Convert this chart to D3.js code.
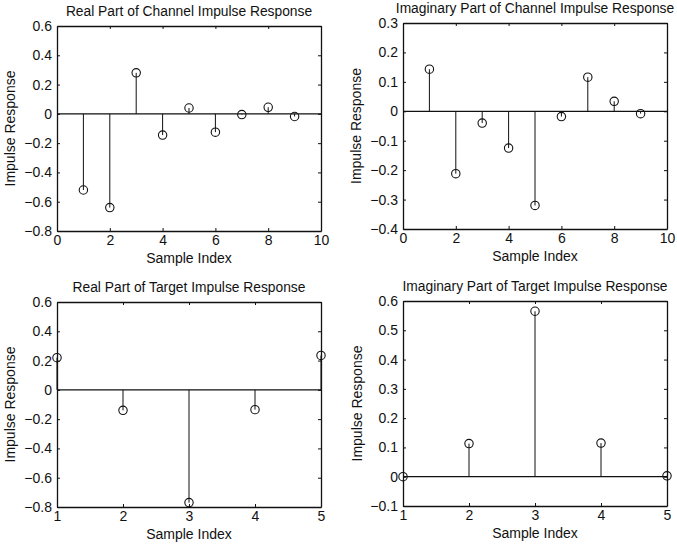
<!DOCTYPE html>
<html>
<head>
<meta charset="utf-8">
<script src="https://cdn.jsdelivr.net/npm/d3@7"></script>
<style>
  body { margin: 0; background: #fff; }
  svg { display: block; font-family: "Liberation Sans", Arial, sans-serif; }
</style>
</head>
<body>
<div id="target"></div>
<script>
// data
const channelIndex = [1, 2, 3, 4, 5, 6, 7, 8, 9]
const channelReal = [-0.52, -0.64, 0.28, -0.145, 0.04, -0.125, -0.005, 0.045, -0.018]
const channelImag = [0.143, -0.212, -0.04, -0.125, -0.32, -0.018, 0.116, 0.034, -0.008]

const targetIndex = [1, 2, 3, 4, 5]
const targetReal = [0.22, -0.14, -0.77, -0.135, 0.235]
const targetImag = [0.0, 0.113, 0.565, 0.115, 0.003]

const channelXTicks = [0, 2, 4, 6, 8, 10]
const targetXTicks = [1, 2, 3, 4, 5]
const realYTicks = [-0.8, -0.6, -0.4, -0.2, 0, 0.2, 0.4, 0.6]
const channelImagYTicks = [-0.4, -0.3, -0.2, -0.1, 0, 0.1, 0.2, 0.3]
const targetImagYTicks = [-0.1, 0, 0.1, 0.2, 0.3, 0.4, 0.5, 0.6]

const titles = [
    'Real Part of Channel Impulse Response',
    'Imaginary Part of Channel Impulse Response',
    'Real Part of Target Impulse Response',
    'Imaginary Part of Target Impulse Response'
]

const width = 677
const height = 547
const ink = '#111'

const svg = d3.select('#target').append('svg')
    .attr('width', width)
    .attr('height', height)

const fmt = v => v === 0 ? '0' : d3.format('.1f')(v)

const panels = [
    { title: titles[0], xs: channelIndex, ys: channelReal, xDomain: [0, 10], xTicks: channelXTicks,
      yTicks: realYTicks, box: { l: 57, r: 321, t: 26, b: 231 }, yLabelX: 11 },
    { title: titles[1], xs: channelIndex, ys: channelImag, xDomain: [0, 10], xTicks: channelXTicks,
      yTicks: channelImagYTicks, box: { l: 403, r: 667, t: 23, b: 229 }, yLabelX: 357 },
    { title: titles[2], xs: targetIndex, ys: targetReal, xDomain: [1, 5], xTicks: targetXTicks,
      yTicks: realYTicks, box: { l: 57, r: 321, t: 302, b: 507 }, yLabelX: 11 },
    { title: titles[3], xs: targetIndex, ys: targetImag, xDomain: [1, 5], xTicks: targetXTicks,
      yTicks: targetImagYTicks, box: { l: 403, r: 667, t: 301, b: 506 }, yLabelX: 358 }
]

panels.forEach(p => {
    const { l, r, t, b } = p.box

    const x = d3.scaleLinear().domain(p.xDomain).range([l, r])
    const y = d3.scaleLinear().domain(d3.extent(p.yTicks)).range([b, t])

    const g = svg.append('g')

    //Axes, MATLAB style ticks pointing inwards on all sides
    const styleAxis = sel => {
        sel.selectAll('path.domain').attr('stroke', ink).attr('stroke-width', 1.3)
        sel.selectAll('.tick line').attr('stroke', ink)
        sel.selectAll('.tick text').attr('fill', ink).attr('font-size', 14)
            .attr('font-family', '"Liberation Sans", Arial, sans-serif')
    }

    g.append('g')
        .attr('transform', `translate(0,${b})`)
        .call(d3.axisBottom(x).tickValues(p.xTicks).tickFormat(d3.format('d'))
            .tickSizeInner(-3).tickSizeOuter(0).tickPadding(4))
        .call(styleAxis)

    g.append('g')
        .attr('transform', `translate(0,${t})`)
        .call(d3.axisTop(x).tickValues(p.xTicks).tickFormat('')
            .tickSizeInner(-3).tickSizeOuter(0))
        .call(styleAxis)

    g.append('g')
        .attr('transform', `translate(${l},0)`)
        .call(d3.axisLeft(y).tickValues(p.yTicks).tickFormat(fmt)
            .tickSizeInner(-3).tickSizeOuter(0).tickPadding(5))
        .call(styleAxis)

    g.append('g')
        .attr('transform', `translate(${r},0)`)
        .call(d3.axisRight(y).tickValues(p.yTicks).tickFormat('')
            .tickSizeInner(-3).tickSizeOuter(0))
        .call(styleAxis)

    //Baseline
    g.append('line')
        .attr('x1', x(p.xDomain[0])).attr('x2', x(p.xDomain[1]))
        .attr('y1', y(0)).attr('y2', y(0))
        .attr('stroke', ink).attr('stroke-width', 1.3)

    const pts = p.xs.map((v, i) => [v, p.ys[i]])

    //Stems
    g.selectAll('line.stem')
        .data(pts)
        .enter()
        .append('line')
        .attr('class', 'stem')
        .attr('x1', d => x(d[0])).attr('x2', d => x(d[0]))
        .attr('y1', y(0)).attr('y2', d => y(d[1]))
        .attr('stroke', ink).attr('stroke-width', 1)

    //Markers
    g.selectAll('circle')
        .data(pts)
        .enter()
        .append('circle')
        .attr('cx', d => x(d[0]))
        .attr('cy', d => y(d[1]))
        .attr('r', 4.2)
        .attr('fill', 'none')
        .attr('stroke', ink)
        .attr('stroke-width', 1.1)

    //Title
    g.append('text')
        .text(p.title)
        .attr('x', (l + r) / 2)
        .attr('y', t - 10)
        .attr('text-anchor', 'middle')
        .attr('font-size', 13.8)
        .attr('fill', ink)

    //X label
    g.append('text')
        .text('Sample Index')
        .attr('x', (l + r) / 2)
        .attr('y', b + 32)
        .attr('text-anchor', 'middle')
        .attr('font-size', 14)
        .attr('fill', ink)

    //Y label
    g.append('text')
        .text('Impulse Response')
        .attr('transform', `translate(${p.yLabelX},${(t + b) / 2}) rotate(-90)`)
        .attr('text-anchor', 'middle')
        .attr('dominant-baseline', 'middle')
        .attr('font-size', 14)
        .attr('fill', ink)
})
</script>
</body>
</html>
